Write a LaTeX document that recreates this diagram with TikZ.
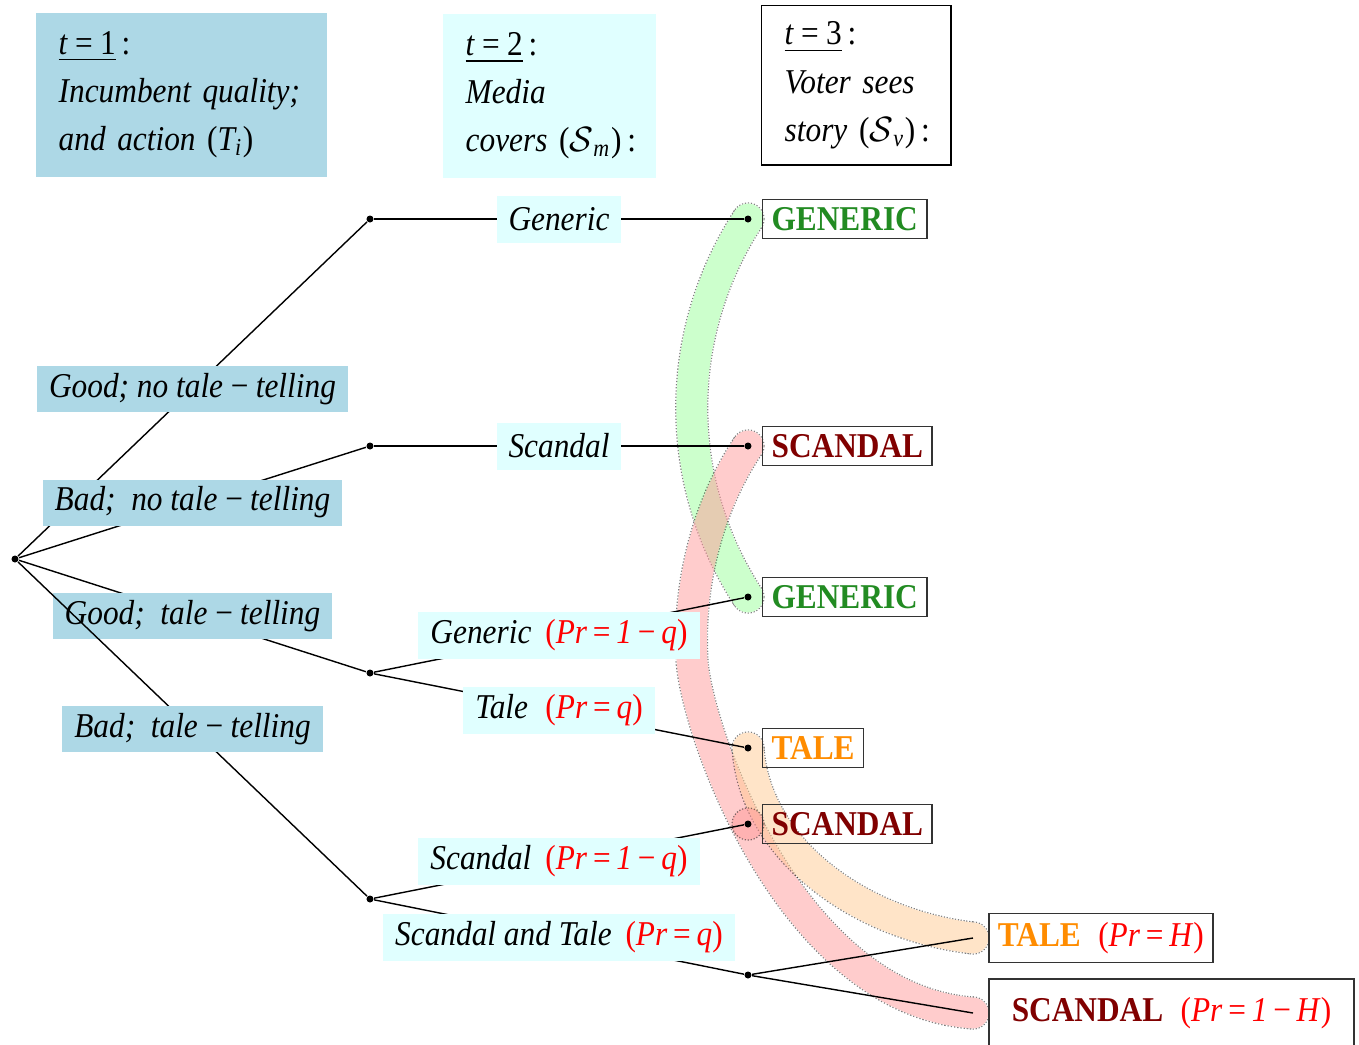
\documentclass[tikz,border=0pt]{standalone}
\usepackage{fontspec}
\setmainfont{Liberation Serif}[FakeStretch=0.9]
\usetikzlibrary{positioning}
\pgfdeclarelayer{background}
\pgfsetlayers{background,main}

\definecolor{qualblue}{RGB}{173,216,230}
\definecolor{mediacyan}{RGB}{224,255,255}
\definecolor{gencol}{RGB}{34,139,34}
\definecolor{sccol}{RGB}{128,0,0}
\definecolor{talecol}{RGB}{255,140,0}
\definecolor{bandgreen}{RGB}{153,255,153}
\definecolor{bandred}{RGB}{255,153,153}
\definecolor{bandorange}{RGB}{255,201,145}

\newcommand{\prlab}[1]{{\color{red}\mdseries\upshape(#1)}}
\newcommand{\mneg}{\,−\,}

\begin{document}
\begin{tikzpicture}[x=0.01cm, y=-0.01cm]
	% Define styles
	\tikzset{
		dot/.style={circle, fill, inner sep=0pt, minimum size=0.07cm},
		hdr/.style={align=left, inner xsep=0.23cm, inner ysep=0pt, anchor=north west, font=\fontsize{9.9}{13.66}\selectfont\itshape},
		qual/.style={fill=qualblue, inner xsep=0.12cm, inner ysep=0pt, minimum height=0.46cm, font=\fontsize{9.9}{12}\selectfont\itshape},
		media/.style={fill=mediacyan, inner xsep=0.12cm, inner ysep=0pt, minimum height=0.47cm, font=\fontsize{9.9}{12}\selectfont\itshape},
		story/.style={draw=black!80, line width=0.5pt, inner xsep=0.09cm, inner ysep=0pt, minimum height=0.39cm, font=\fontsize{9.9}{12}\selectfont\bfseries},
		bandedge/.style={line width=0.332cm, black, dash pattern=on 0.012cm off 0.018cm},
		bandcap/.style={line width=0.012cm, black, dash pattern=on 0.012cm off 0.018cm},
		bandfill/.style={line width=0.308cm, line cap=round}
	}
	\useasboundingbox (0,0) rectangle (1359,1044);

	% Headers
	\node[hdr, fill=qualblue, text width=2.45cm, minimum height=1.64cm] (t1) at (35,12)
		{\underline{\textit{t}\,=\,\textup{1}}\,\textup{:}\\ Incumbent~quality;\\ and~action~\textup{(}\textit{T}\textsubscript{\textit{i}}\textup{)}};
	\node[hdr, fill=mediacyan, text width=1.67cm, minimum height=1.64cm] (t2) at (442,13)
		{\underline{\textit{t}\,=\,\textup{2}}\,\textup{:}\\ Media\\ covers~\textup{(}$\mathcal{S}$\textsubscript{\textit{m}}\textup{)}\,\textup{:}};
	\node[hdr, draw, text width=1.43cm, minimum height=1.59cm] (t3) at (761,5)
		{\underline{\textit{t}\,=\,\textup{3}}\,\textup{:}\\ Voter~sees\\ story~\textup{(}$\mathcal{S}$\textsubscript{\textit{v}}\textup{)}\,\textup{:}};

	% Nodes
	\node[dot] (root) at (15,559) {};
	\node[dot] (gn) at (370,219) {};
	\node[dot] (bn) at (370,446) {};
	\node[dot] (gt) at (370,673) {};
	\node[dot] (bt) at (370,899) {};

	\node[dot] (gn-gen) at (748,219) {};
	\node[dot] (bn-sc) at (748,446) {};
	\node[dot] (gt-gen) at (748,597) {};
	\node[dot] (gt-tale) at (748,748) {};
	\node[dot] (bt-sc) at (748,824) {};
	\node[dot] (bt-st) at (748,975) {};
	\coordinate (st-tale) at (973,938);
	\coordinate (st-sc) at (973,1013);

	\node[story, right=0.095cm of gn-gen, text=gencol] (v1) {GENERIC};
	\node[story, right=0.095cm of bn-sc, text=sccol] (v2) {SCANDAL};
	\node[story, right=0.095cm of gt-gen, text=gencol] (v3) {GENERIC};
	\node[story, right=0.095cm of gt-tale, text=talecol] (v4) {TALE};
	\node[story, right=0.095cm of bt-sc, text=sccol] (v5) {SCANDAL};
	\node[story, right=0.15cm of st-tale, minimum height=0.49cm, text=talecol] (v6)
		{TALE\enspace\prlab{\textit{Pr}\,=\,\textit{H}}};
	\node[story, right=0.15cm of st-sc, minimum width=3.65cm, minimum height=0.68cm, text=sccol] (v7)
		{SCANDAL\enspace\prlab{\textit{Pr}\,=\,\textit{1}\mneg\textit{H}}};

	% Arrows
	\draw (root) -- node[qual] {Good; no tale\mneg telling} (gn);
	\draw (root) -- node[qual] {Bad;\ \ no tale\mneg telling} (bn);
	\draw (root) -- node[qual] {Good;\ \ tale\mneg telling} (gt);
	\draw (root) -- node[qual] {Bad;\ \ tale\mneg telling} (bt);

	\draw (gn) -- node[media] {Generic} (gn-gen);
	\draw (bn) -- node[media] {Scandal} (bn-sc);
	\draw (gt) -- node[media] {Generic\hspace{0.4em}\prlab{\textit{Pr}\,=\,\textit{1}\mneg\textit{q}}} (gt-gen);
	\draw (gt) -- node[media] {Tale\hspace{0.5em}\prlab{\textit{Pr}\,=\,\textit{q}}} (gt-tale);
	\draw (bt) -- node[media] {Scandal\hspace{0.4em}\prlab{\textit{Pr}\,=\,\textit{1}\mneg\textit{q}}} (bt-sc);
	\draw (bt) -- node[media] {Scandal and Tale\hspace{0.4em}\prlab{\textit{Pr}\,=\,\textit{q}}} (bt-st);

	\draw (bt-st) -- (st-tale);
	\draw (bt-st) -- (st-sc);

	% Story bands
	\begin{pgfonlayer}{background}
		\begin{scope}[transparency group, opacity=0.5]
			\draw[bandedge] (gn-gen.center) .. controls (673,334) and (673,482) .. (gt-gen.center);
			\draw[bandcap] (gn-gen.center) circle (0.16cm) (gt-gen.center) circle (0.16cm);
			\draw[bandfill, bandgreen] (gn-gen.center) .. controls (673,334) and (673,482) .. (gt-gen.center);
		\end{scope}
		\begin{scope}[transparency group, opacity=0.5]
			\draw[bandedge] (bn-sc.center) .. controls (705,510) and (688,590) .. (692,660)
				.. controls (696,730) and (790,1000) .. (st-sc);
			\draw[bandcap] (bn-sc.center) circle (0.16cm) (st-sc) circle (0.16cm);
			\draw[bandfill, bandred] (bn-sc.center) .. controls (705,510) and (688,590) .. (692,660)
				.. controls (696,730) and (790,1000) .. (st-sc);
		\end{scope}
		\begin{scope}[transparency group, opacity=0.5]
			\draw[bandedge] (gt-tale.center) .. controls (755,850) and (860,925) .. (st-tale);
			\draw[bandcap] (gt-tale.center) circle (0.16cm) (st-tale) circle (0.16cm);
			\draw[bandfill, bandorange] (gt-tale.center) .. controls (755,850) and (860,925) .. (st-tale);
		\end{scope}
		\begin{scope}[transparency group, opacity=0.5]
			\fill[bandred] (bt-sc.center) circle (0.16cm);
			\draw[bandcap] (bt-sc.center) circle (0.16cm);
		\end{scope}
	\end{pgfonlayer}
\end{tikzpicture}
\end{document}
